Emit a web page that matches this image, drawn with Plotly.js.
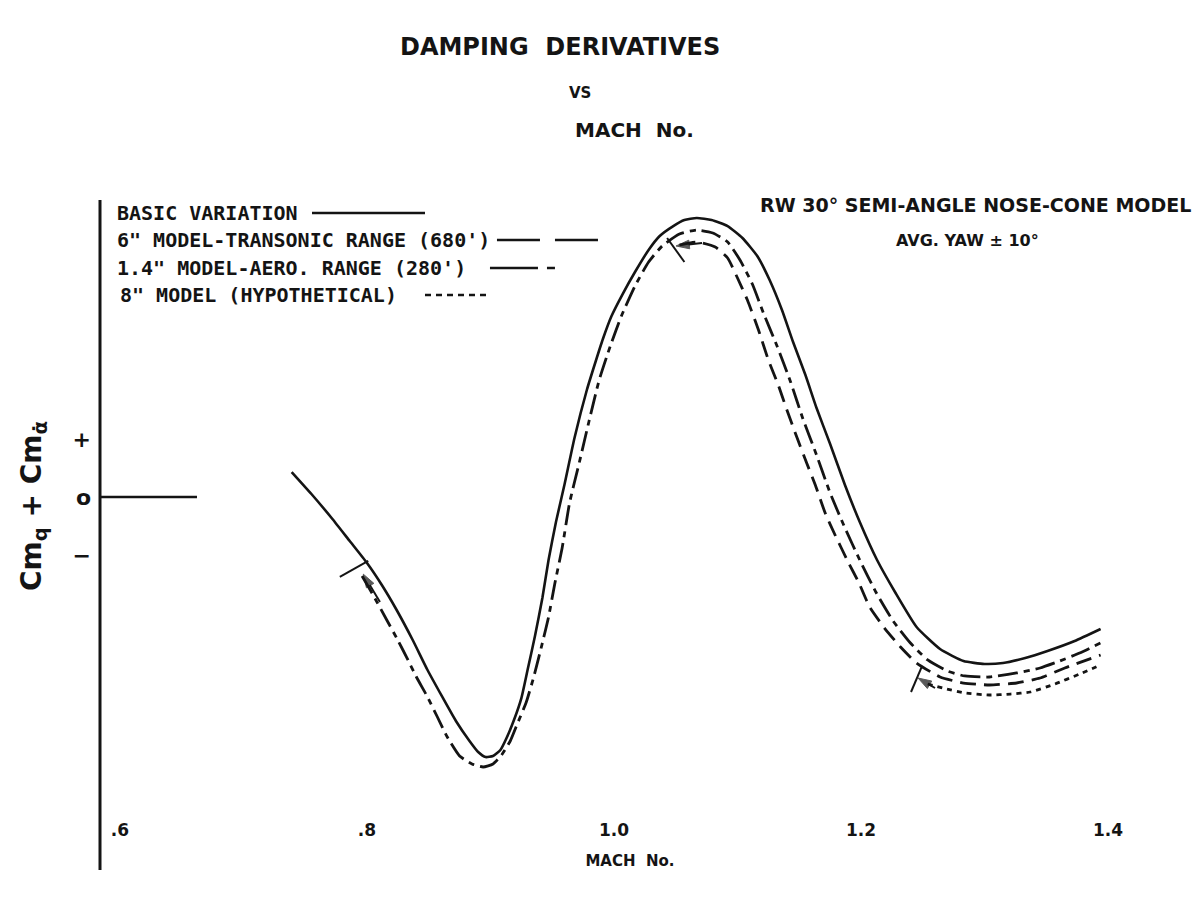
<!DOCTYPE html>
<html>
<head>
<meta charset="utf-8">
<script src="https://cdn.plot.ly/plotly-3.0.1.min.js"></script>
<style>html,body{margin:0;padding:0;background:#fff;}#chart{width:1202px;height:897px;}</style>
</head>
<body>
<div id="chart"></div>
<script>
// ---- data (Mach number vs relative Cm_q + Cm_alpha-dot, arbitrary units: + = 1, o = 0, - = -1)
const machBasic = [0.739,0.755,0.772,0.786,0.800,0.812,0.824,0.837,0.849,0.861,0.872,0.883,0.890,0.896,0.902,0.908,0.913,0.919,0.925,0.930,0.936,0.942,0.947,0.953,0.960,0.968,0.978,0.985,0.991,0.998,1.007,1.017,1.028,1.037,1.048,1.057,1.067,1.079,1.092,1.104,1.116,1.126,1.136,1.145,1.155,1.164,1.175,1.187,1.199,1.213,1.228,1.245,1.264,1.283,1.300,1.315,1.333,1.351,1.373,1.394];
const cmBasic   = [0.431,0.052,-0.379,-0.759,-1.138,-1.517,-1.948,-2.466,-2.983,-3.448,-3.862,-4.207,-4.397,-4.483,-4.466,-4.362,-4.155,-3.845,-3.466,-2.983,-2.397,-1.741,-1.086,-0.431,0.224,1.017,1.845,2.328,2.724,3.121,3.500,3.879,4.259,4.500,4.672,4.776,4.810,4.776,4.672,4.466,4.155,3.741,3.224,2.672,2.103,1.534,0.914,0.207,-0.431,-1.086,-1.655,-2.241,-2.621,-2.828,-2.879,-2.862,-2.776,-2.655,-2.483,-2.276];

const machAero14 = [0.796,0.804,0.816,0.824,0.832,0.840,0.849,0.857,0.865,0.875,0.885,0.894,0.902,0.909,0.916,0.922,0.929,0.935,0.941,0.947,0.952,0.958,0.964,0.972,0.980,0.988,0.997,1.006,1.017,1.028,1.039,1.053,1.067,1.080,1.092,1.102,1.112,1.121,1.132,1.143,1.153,1.164,1.175,1.187,1.199,1.212,1.226,1.240,1.254,1.270,1.284,1.304,1.326,1.345,1.361,1.377,1.394];
const cmAero14   = [-1.362,-1.655,-2.121,-2.431,-2.759,-3.103,-3.448,-3.793,-4.138,-4.466,-4.603,-4.655,-4.603,-4.448,-4.207,-3.897,-3.534,-3.103,-2.603,-2.069,-1.500,-0.879,-0.103,0.603,1.328,2.017,2.603,3.121,3.638,4.052,4.328,4.534,4.603,4.552,4.397,4.086,3.672,3.172,2.603,1.983,1.345,0.724,0.069,-0.534,-1.086,-1.638,-2.138,-2.517,-2.810,-3.000,-3.086,-3.103,-3.034,-2.948,-2.828,-2.690,-2.517];

const machTrans6 = [1.053,1.067,1.082,1.092,1.100,1.108,1.117,1.125,1.133,1.140,1.148,1.156,1.163,1.171,1.179,1.190,1.198,1.207,1.219,1.232,1.245,1.264,1.283,1.304,1.326,1.345,1.365,1.394];
const cmTrans6   = [4.345,4.397,4.310,4.121,3.776,3.397,2.879,2.362,1.931,1.500,1.034,0.586,0.207,-0.276,-0.655,-1.138,-1.466,-1.897,-2.259,-2.586,-2.862,-3.103,-3.207,-3.241,-3.207,-3.121,-2.948,-2.724];

const machHypo8 = [1.254,1.266,1.284,1.304,1.321,1.337,1.357,1.377,1.394];
const cmHypo8   = [-3.224,-3.293,-3.379,-3.414,-3.397,-3.362,-3.224,-3.052,-2.897];

const seriesNames = ['BASIC VARIATION', '6" MODEL-TRANSONIC RANGE (680\')', '1.4" MODEL-AERO. RANGE (280\')', '8" MODEL (HYPOTHETICAL)'];
const xTickVals = [0.6, 0.8, 1.0, 1.2, 1.4];
const xTickText = ['.6', '.8', '1.0', '1.2', '1.4'];
const yTickVals = [1, 0, -1];
const yTickText = ['+', 'o', '\u2212'];

// direction-of-travel arrows at the start of each test range: [tail, head]
const arrowMach = [[0.8105, 0.797], [1.0713, 1.0502], [1.2599, 1.2462]];
const arrowCm   = [[-1.81, -1.33], [4.379, 4.328], [-3.293, -3.121]];

// ---- styling
const INK = '#141414';
const FONT = 'DejaVu Sans, Liberation Sans, sans-serif';
const MONO = 'DejaVu Sans Mono, Liberation Mono, monospace';
const dashBasic = 'solid';
const dashTrans6 = '16px,8px';
const dashAero14 = '20px,6px,6px,6px';
const dashHypo8 = '5px,5px';

function tr(x, y, name, dash, w) {
  return {x: x, y: y, name: name, type: 'scatter', mode: 'lines',
          line: {color: INK, width: w, dash: dash, shape: 'spline', smoothing: 0.5},
          hoverinfo: 'skip'};
}
const traces = [
  tr(machBasic, cmBasic, seriesNames[0], dashBasic, 2.6),
  tr(machTrans6, cmTrans6, seriesNames[1], dashTrans6, 2.8),
  tr(machAero14, cmAero14, seriesNames[2], dashAero14, 2.8),
  tr(machHypo8, cmHypo8, seriesNames[3], dashHypo8, 2.8)
];
arrowMach.forEach((ax, i) => traces.push({
  x: ax, y: arrowCm[i], type: 'scatter', mode: 'lines+markers', showlegend: false, hoverinfo: 'skip',
  line: {color: INK, width: 2},
  marker: {symbol: 'arrow', size: [0, 14], angleref: 'previous', color: INK, line: {width: 1, color: INK}}
}));

// legend built as text + line sample (text first, as in the original)
const legendRows = [
  {y: 0.9788, x0: 0.2000, x1: 0.3066, dash: dashBasic},
  {y: 0.9346, x0: 0.3745, x1: 0.4717, dash: '43px,15px'},
  {y: 0.8889, x0: 0.3679, x1: 0.4292, dash: '48px,9px,8px,20px'},
  {y: 0.8448, x0: 0.3066, x1: 0.3679, dash: '6px,5px'}
];
const shapes = [
  // y axis line, running below the plot area as in the original
  {type: 'line', xref: 'paper', yref: 'paper', x0: 0, x1: 0, y0: -0.0948, y1: 1.0, line: {color: INK, width: 3}},
  // short zero reference line at the axis
  {type: 'line', xref: 'paper', yref: 'y', x0: 0, x1: 0.0915, y0: 0, y1: 0, line: {color: INK, width: 2.5}},
  // range start brackets
  {type: 'line', xref: 'x', yref: 'y', x0: 0.778, y0: -1.379, x1: 0.801, y1: -1.103, line: {color: INK, width: 2}},
  {type: 'line', xref: 'x', yref: 'y', x0: 1.043, y0: 4.466, x1: 1.057, y1: 4.052, line: {color: INK, width: 2}},
  {type: 'line', xref: 'x', yref: 'y', x0: 1.2494, y0: -2.914, x1: 1.2405, y1: -3.362, line: {color: INK, width: 2}}
];
const annotations = [];
legendRows.forEach((r, i) => {
  shapes.push({type: 'line', xref: 'paper', yref: 'paper', x0: r.x0, x1: r.x1, y0: r.y, y1: r.y,
               line: {color: INK, width: 2.6, dash: r.dash}});
  annotations.push({xref: 'paper', yref: 'paper', x: i === 3 ? 0.0170 : 0.0142, y: r.y, xanchor: 'left', yanchor: 'middle',
                    text: seriesNames[i], showarrow: false, font: {family: MONO, size: 20, weight: 'bold', color: INK}});
});
// headings and notes
annotations.push(
  {xref: 'paper', yref: 'paper', x: 0.453, y: 1.1748, text: 'VS', showarrow: false, xanchor: 'center', yanchor: 'middle',
   font: {family: FONT, size: 15, weight: 'bold', color: INK}},
  {xref: 'paper', yref: 'paper', x: 0.504, y: 1.1144, text: 'MACH  No.', showarrow: false, xanchor: 'center', yanchor: 'middle',
   font: {family: FONT, size: 20, weight: 'bold', color: INK}},
  {xref: 'paper', yref: 'paper', x: 1.031, y: 0.9918, text: 'RW 30\u00b0 SEMI-ANGLE NOSE-CONE MODEL', showarrow: false, xanchor: 'right', yanchor: 'middle',
   font: {family: FONT, size: 19, weight: 'bold', color: INK}},
  {xref: 'paper', yref: 'paper', x: 0.818, y: 0.9346, text: 'AVG. YAW \u00b1 10\u00b0', showarrow: false, xanchor: 'center', yanchor: 'middle',
   font: {family: FONT, size: 16, weight: 'bold', color: INK}}
);

const layout = {
  width: 1202, height: 897,
  margin: {l: 100, r: 42, t: 200, b: 85},
  paper_bgcolor: '#ffffff', plot_bgcolor: '#ffffff',
  font: {family: FONT, color: INK},
  showlegend: false,
  title: {text: 'DAMPING  DERIVATIVES', x: 0.466, xanchor: 'center', y: 0.9476, yanchor: 'middle',
          font: {family: FONT, size: 24, weight: 'bold', color: INK}},
  xaxis: {range: [0.5838, 1.4421], tickvals: xTickVals, ticktext: xTickText, showgrid: false, zeroline: false,
          showline: false, ticks: '', ticklabelstandoff: 6, automargin: false,
          tickfont: {family: FONT, size: 17, weight: 'bold', color: INK},
          title: {text: 'MACH  No.', standoff: 16, font: {family: FONT, size: 15, weight: 'bold', color: INK}}},
  yaxis: {range: [-5.431, 5.121], tickvals: yTickVals, ticktext: yTickText, showgrid: false, zeroline: false,
          showline: false, ticks: '', ticklabelstandoff: 8, automargin: false,
          tickfont: {family: FONT, size: 22, weight: 'bold', color: INK},
          title: {text: 'Cm<sub>q</sub> + Cm<sub>\u03b1\u0307</sub>', standoff: 22, font: {family: FONT, size: 28, weight: 'bold', color: INK}}},
  shapes: shapes,
  annotations: annotations
};

Plotly.newPlot('chart', traces, layout, {displayModeBar: false, staticPlot: true});
</script>
</body>
</html>
